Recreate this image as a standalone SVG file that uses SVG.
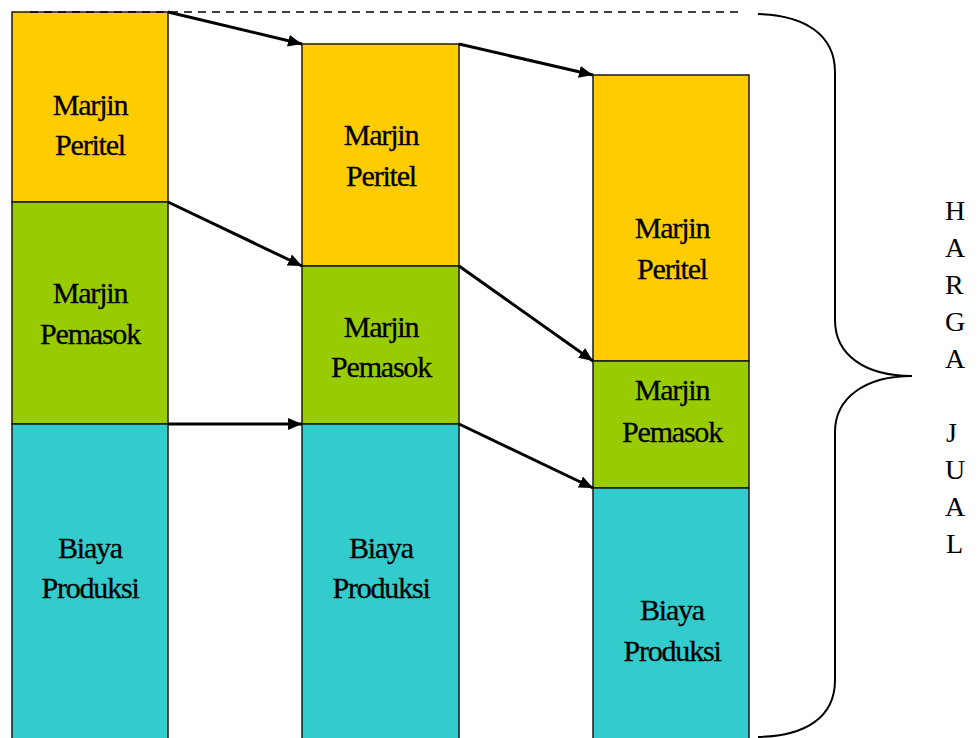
<svg xmlns="http://www.w3.org/2000/svg" width="979" height="738" viewBox="0 0 979 738">
  <defs>
    <marker id="arrow" viewBox="0 0 14 12" refX="14" refY="6" markerWidth="14" markerHeight="12" markerUnits="userSpaceOnUse" orient="auto">
      <path d="M0,0 L14,6 L0,12 z" fill="#000"/>
    </marker>
  </defs>
  <style>
    .ret { fill: #FFCC00; stroke: #1a1a1a; stroke-width: 1.5; }
    .sup { fill: #99CC00; stroke: #1a1a1a; stroke-width: 1.5; }
    .cost { fill: #33CCCC; stroke: #1a1a1a; stroke-width: 1.5; }
    .lbl { font-size: 30px; letter-spacing: -1.2px; text-anchor: middle; fill: #000; stroke: #000; stroke-width: 0.3px; }
    .side { font-size: 28px; fill: #000; }
    .flow { stroke: #000; stroke-width: 3; fill: none; marker-end: url(#arrow); }
  </style>
  <rect width="979" height="738" fill="#fff"/>

  <g font-family="'Liberation Serif', 'DejaVu Serif', serif">
  <!-- column 1 -->
  <g id="col1-retail">
    <rect class="ret" x="12" y="12" width="156" height="190"/>
    <text class="lbl" x="90" y="115">Marjin</text>
    <text class="lbl" x="90" y="155">Peritel</text>
  </g>
  <g id="col1-supplier">
    <rect class="sup" x="12" y="202" width="156" height="222"/>
    <text class="lbl" x="90" y="303">Marjin</text>
    <text class="lbl" x="90" y="344">Pemasok</text>
  </g>
  <g id="col1-cost">
    <rect class="cost" x="12" y="424" width="156" height="320"/>
    <text class="lbl" x="90" y="558">Biaya</text>
    <text class="lbl" x="90" y="598">Produksi</text>
  </g>

  <!-- column 2 -->
  <g id="col2-retail">
    <rect class="ret" x="302" y="44" width="157" height="222"/>
    <text class="lbl" x="381" y="145">Marjin</text>
    <text class="lbl" x="381" y="186">Peritel</text>
  </g>
  <g id="col2-supplier">
    <rect class="sup" x="302" y="266" width="157" height="158"/>
    <text class="lbl" x="381" y="337">Marjin</text>
    <text class="lbl" x="381" y="377">Pemasok</text>
  </g>
  <g id="col2-cost">
    <rect class="cost" x="302" y="424" width="157" height="320"/>
    <text class="lbl" x="381" y="558">Biaya</text>
    <text class="lbl" x="381" y="598">Produksi</text>
  </g>

  <!-- column 3 -->
  <g id="col3-retail">
    <rect class="ret" x="593" y="75" width="156" height="286"/>
    <text class="lbl" x="672" y="238">Marjin</text>
    <text class="lbl" x="672" y="279">Peritel</text>
  </g>
  <g id="col3-supplier">
    <rect class="sup" x="593" y="361" width="156" height="127"/>
    <text class="lbl" x="672" y="400">Marjin</text>
    <text class="lbl" x="672" y="442">Pemasok</text>
  </g>
  <g id="col3-cost">
    <rect class="cost" x="593" y="488" width="156" height="256"/>
    <text class="lbl" x="672" y="620">Biaya</text>
    <text class="lbl" x="672" y="661">Produksi</text>
  </g>

  <g id="harga-jual">
    <text class="side" x="945" y="220">H</text>
    <text class="side" x="945" y="257">A</text>
    <text class="side" x="945" y="294">R</text>
    <text class="side" x="945" y="331">G</text>
    <text class="side" x="945" y="368">A</text>
    <text class="side" x="946" y="442">J</text>
    <text class="side" x="945" y="479">U</text>
    <text class="side" x="945" y="516">A</text>
    <text class="side" x="946" y="553">L</text>
  </g>
  </g>

  <!-- connectors -->
  <g id="connectors">
    <line x1="30" y1="12" x2="740" y2="12" stroke="#000" stroke-width="1.5" stroke-dasharray="8,6"/>
    <line class="flow" x1="168" y1="12" x2="302" y2="44"/>
    <line class="flow" x1="459" y1="44" x2="593" y2="75"/>
    <line class="flow" x1="168" y1="202" x2="302" y2="266"/>
    <line class="flow" x1="459" y1="266" x2="593" y2="361"/>
    <line class="flow" x1="168" y1="424" x2="302" y2="424"/>
    <line class="flow" x1="459" y1="424" x2="593" y2="488"/>
  </g>

  <!-- brace spanning the selling price -->
  <g id="brace">
    <path d="M758,14 C805,15 835,35 835,72 L835,320 C835,355 865,376 912,376 C865,376 835,398 835,432 L835,680 C835,718 805,736 758,737" fill="none" stroke="#000" stroke-width="2"/>
  </g>
</svg>
